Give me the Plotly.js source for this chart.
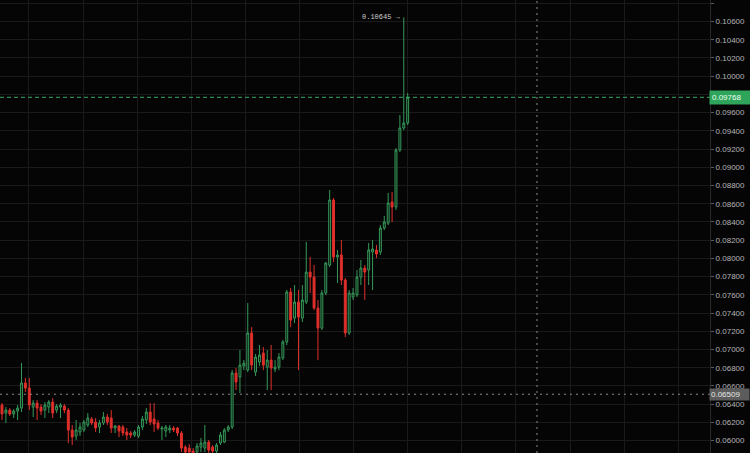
<!DOCTYPE html>
<html>
<head>
<meta charset="utf-8">
<script src="https://cdn.plot.ly/plotly-3.0.1.min.js"></script>
<style>
  html, body { margin: 0; padding: 0; background: #050505; }
  #chart { width: 750px; height: 453px; }
</style>
</head>
<body>
<div id="chart"></div>
<script>
// Candle series (one bar per index)
const opens = [
  0.06390, 0.06302, 0.06335, 0.06292, 0.06324, 0.06357, 0.06632, 0.06577, 0.06368, 0.06412,
  0.06368, 0.06335, 0.06368, 0.06423, 0.06335, 0.06368, 0.06379, 0.06335, 0.06116, 0.06050,
  0.06094, 0.06116, 0.06171, 0.06237, 0.06204, 0.06149, 0.06193, 0.06259, 0.06248, 0.06138,
  0.06160, 0.06149, 0.06094, 0.06083, 0.06061, 0.06050, 0.06149, 0.06226, 0.06313, 0.06237,
  0.06193, 0.06127, 0.06105, 0.06116, 0.06138, 0.06138, 0.06083, 0.05929, 0.05918, 0.05885,
  0.05874, 0.05929, 0.05918, 0.05984, 0.05929, 0.05885, 0.05973, 0.05984, 0.06116, 0.06149,
  0.06742, 0.06698, 0.06818, 0.06774, 0.07181, 0.06752, 0.06862, 0.06961, 0.06807, 0.06884,
  0.06785, 0.06807, 0.06906, 0.07082, 0.07631, 0.07345, 0.07521, 0.07345, 0.07521, 0.07850,
  0.07795, 0.07455, 0.07235, 0.07620, 0.07927, 0.08641, 0.08015, 0.08037, 0.07762, 0.07181,
  0.07576, 0.07598, 0.07795, 0.07894, 0.07872, 0.08070, 0.08092, 0.08070, 0.08333, 0.08388,
  0.08619, 0.08564, 0.09189, 0.09431, 0.09486
];
const highs = [
  0.06412, 0.06368, 0.06357, 0.06346, 0.06390, 0.06851, 0.06687, 0.06687, 0.06445, 0.06445,
  0.06401, 0.06423, 0.06445, 0.06467, 0.06401, 0.06412, 0.06401, 0.06357, 0.06171, 0.06226,
  0.06193, 0.06226, 0.06302, 0.06259, 0.06248, 0.06226, 0.06313, 0.06292, 0.06335, 0.06171,
  0.06171, 0.06171, 0.06138, 0.06105, 0.06116, 0.06171, 0.06270, 0.06357, 0.06412, 0.06412,
  0.06226, 0.06160, 0.06171, 0.06171, 0.06160, 0.06149, 0.06105, 0.05951, 0.05962, 0.05918,
  0.05973, 0.06028, 0.06171, 0.06006, 0.05951, 0.05973, 0.06094, 0.06138, 0.06171, 0.06774,
  0.06796, 0.06994, 0.06884, 0.07510, 0.07246, 0.06950, 0.07049, 0.07027, 0.06994, 0.07049,
  0.06884, 0.06961, 0.07104, 0.07653, 0.07675, 0.07708, 0.07653, 0.07708, 0.08180, 0.08015,
  0.07927, 0.07543, 0.07653, 0.07960, 0.08750, 0.08663, 0.08092, 0.08202, 0.07784, 0.07653,
  0.07675, 0.07872, 0.07982, 0.07927, 0.08169, 0.08202, 0.08147, 0.08366, 0.08465, 0.08717,
  0.08728, 0.09211, 0.09574, 0.10645, 0.09815
];
const lows = [
  0.06226, 0.06193, 0.06270, 0.06248, 0.06226, 0.06313, 0.06533, 0.06335, 0.06259, 0.06226,
  0.06281, 0.06248, 0.06302, 0.06248, 0.06302, 0.06248, 0.06302, 0.05973, 0.05951, 0.06006,
  0.06050, 0.06094, 0.06149, 0.06171, 0.06094, 0.06083, 0.06171, 0.06171, 0.06083, 0.06083,
  0.06039, 0.06050, 0.06006, 0.06028, 0.06039, 0.06028, 0.06116, 0.06182, 0.06171, 0.06094,
  0.06116, 0.06006, 0.06039, 0.06083, 0.06094, 0.06050, 0.05874, 0.05830, 0.05830, 0.05787,
  0.05841, 0.05874, 0.05874, 0.05863, 0.05841, 0.05863, 0.05951, 0.05973, 0.06094, 0.06127,
  0.06555, 0.06522, 0.06774, 0.06752, 0.06774, 0.06709, 0.06818, 0.06774, 0.06555, 0.06555,
  0.06752, 0.06774, 0.06884, 0.07049, 0.07246, 0.07290, 0.06774, 0.07301, 0.07499, 0.07620,
  0.07433, 0.06884, 0.07213, 0.07598, 0.07905, 0.07960, 0.07730, 0.07708, 0.07137, 0.07159,
  0.07543, 0.07576, 0.07708, 0.07543, 0.07708, 0.07653, 0.08004, 0.08037, 0.08311, 0.08366,
  0.08399, 0.08531, 0.09168, 0.09409, 0.09464
];
const closes = [
  0.06292, 0.06335, 0.06292, 0.06324, 0.06357, 0.06632, 0.06577, 0.06390, 0.06412, 0.06357,
  0.06324, 0.06390, 0.06423, 0.06302, 0.06379, 0.06390, 0.06335, 0.06116, 0.06039, 0.06116,
  0.06149, 0.06204, 0.06248, 0.06193, 0.06138, 0.06193, 0.06259, 0.06204, 0.06138, 0.06160,
  0.06105, 0.06083, 0.06061, 0.06061, 0.06094, 0.06149, 0.06237, 0.06313, 0.06204, 0.06182,
  0.06138, 0.06138, 0.06149, 0.06138, 0.06116, 0.06083, 0.05918, 0.05874, 0.05874, 0.05841,
  0.05940, 0.05973, 0.05984, 0.05896, 0.05885, 0.05951, 0.06061, 0.06116, 0.06149, 0.06742,
  0.06643, 0.06829, 0.06851, 0.07181, 0.06829, 0.06917, 0.06939, 0.06829, 0.06884, 0.06796,
  0.06807, 0.06917, 0.07082, 0.07631, 0.07323, 0.07521, 0.07356, 0.07543, 0.07850, 0.07795,
  0.07455, 0.07235, 0.07620, 0.07949, 0.08641, 0.08015, 0.08037, 0.07762, 0.07181, 0.07620,
  0.07620, 0.07795, 0.07894, 0.07850, 0.08092, 0.08103, 0.08048, 0.08333, 0.08399, 0.08608,
  0.08564, 0.09189, 0.09431, 0.09486, 0.09768
];

// Price axis ticks (the 0.09800 slot sits under the last-price tag)
const priceTicks = [
  0.060, 0.062, 0.064, 0.066, 0.068, 0.070, 0.072, 0.074, 0.076, 0.078, 0.080, 0.082, 0.084,
  0.086, 0.088, 0.090, 0.092, 0.094, 0.096, 0.098, 0.100, 0.102, 0.104, 0.106, 0.108
];
const priceTickText = [
  '0.06000', '0.06200', '0.06400', '0.06600', '0.06800', '0.07000', '0.07200', '0.07400',
  '0.07600', '0.07800', '0.08000', '0.08200', '0.08400', '0.08600', '0.08800', '0.09000',
  '0.09200', '0.09400', '0.09600', '', '0.10000', '0.10200', '0.10400', '0.10600', '0.10800'
];

// Marked levels
const lastPrice = closes[closes.length - 1];
const crosshairPrice = 0.06509;
const peakPrice = Math.max(...highs);
const peakIndex = highs.indexOf(peakPrice);

const idx = opens.map((_, i) => i);

const trace = {
  type: 'candlestick',
  x: idx,
  open: opens,
  high: highs,
  low: lows,
  close: closes,
  increasing: { line: { color: '#35995a', width: 1 }, fillcolor: '#0b1a10' },
  decreasing: { line: { color: '#e0302b', width: 1 }, fillcolor: '#e0302b' },
  whiskerwidth: 0,
  hoverinfo: 'skip'
};

const gridColor = '#1a1a1a';

const layout = {
  width: 750,
  height: 453,
  margin: { l: 0, r: 40, t: 0, b: 0 },
  paper_bgcolor: '#050505',
  plot_bgcolor: '#050505',
  showlegend: false,
  hovermode: false,
  xaxis: {
    type: 'linear',
    range: [-0.51, 181.5],
    rangeslider: { visible: false },
    showticklabels: false,
    ticks: '',
    tickmode: 'linear',
    tick0: 6.92,
    dtick: 13.87,
    showgrid: true,
    gridcolor: gridColor,
    gridwidth: 1,
    zeroline: false,
    showline: false
  },
  yaxis: {
    side: 'right',
    range: [0.05864, 0.10836],
    tickmode: 'array',
    tickvals: priceTicks,
    ticktext: priceTickText,
    ticks: 'outside',
    ticklen: 3,
    tickcolor: '#5a5a5a',
    tickfont: { family: 'Liberation Sans, Arial, sans-serif', size: 8, color: '#b4b4b4' },
    showgrid: true,
    gridcolor: gridColor,
    gridwidth: 1,
    zeroline: false,
    showline: true,
    linecolor: '#2a2a2a',
    linewidth: 1
  },
  shapes: [
    // last price line
    { type: 'line', xref: 'paper', yref: 'y', x0: 0, x1: 1, y0: lastPrice, y1: lastPrice,
      line: { color: '#3aa864', width: 1, dash: '4px,3px' } },
    // crosshair
    { type: 'line', xref: 'paper', yref: 'y', x0: 0, x1: 1, y0: crosshairPrice, y1: crosshairPrice,
      line: { color: '#8a8a8a', width: 1, dash: '2px,4px' } },
    { type: 'line', xref: 'paper', yref: 'paper', x0: 0.7563, x1: 0.7563, y0: 0, y1: 1,
      line: { color: '#8a8a8a', width: 1, dash: '2px,4px' } }
  ],
  annotations: [
    { xref: 'paper', yref: 'y', x: 1, xanchor: 'left', xshift: -1, y: lastPrice, yanchor: 'middle',
      text: lastPrice.toFixed(5), showarrow: false, bgcolor: '#2ea55a', borderpad: 2,
      width: 37, align: 'left',
      font: { family: 'Liberation Sans, Arial, sans-serif', size: 8, color: '#f2fff5' } },
    { xref: 'paper', yref: 'y', x: 1, xanchor: 'left', xshift: -1, y: crosshairPrice, yanchor: 'middle',
      text: crosshairPrice.toFixed(5), showarrow: false, bgcolor: '#5c5c5c', borderpad: 1,
      width: 37, align: 'left',
      font: { family: 'Liberation Sans, Arial, sans-serif', size: 8, color: '#e6e6e6' } },
    { xref: 'x', yref: 'y', x: peakIndex, xanchor: 'right', xshift: -1, y: peakPrice, yanchor: 'middle',
      text: peakPrice.toFixed(5) + ' \u2192', showarrow: false,
      font: { family: 'Liberation Mono, DejaVu Sans Mono, monospace', size: 7, color: '#d0d0d0' } }
  ]
};

Plotly.newPlot('chart', [trace], layout, { staticPlot: true, displayModeBar: false });
</script>
</body>
</html>
